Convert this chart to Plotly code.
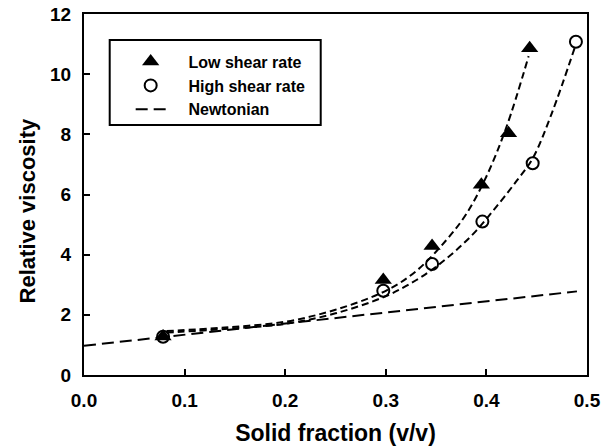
import plotly.graph_objects as go

# Measured relative viscosity vs. solid fraction
low_phi = [0.0786, 0.2975, 0.346, 0.395, 0.422, 0.443]
low_visc = [1.28, 3.16, 4.29, 6.32, 8.04, 10.86]

high_phi = [0.0786, 0.2975, 0.346, 0.396, 0.446, 0.489]
high_visc = [1.27, 2.80, 3.69, 5.10, 7.04, 11.08]

# Fitted curves through each data set
low_fit_phi = [0.082, 0.14, 0.20, 0.25, 0.30, 0.33, 0.36, 0.38, 0.40, 0.42, 0.442]
low_fit_visc = [1.46, 1.58, 1.77, 2.17, 2.80, 3.45, 4.48, 5.35, 6.60, 8.25, 10.60]

high_fit_phi = [0.082, 0.14, 0.20, 0.25, 0.30, 0.33, 0.35, 0.37, 0.39, 0.41, 0.43, 0.446, 0.465, 0.488]
high_fit_visc = [1.41, 1.53, 1.70, 2.05, 2.62, 3.15, 3.60, 4.15, 4.80, 5.60, 6.45, 7.20, 8.70, 10.90]

# Newtonian reference line
newt_phi = [0.0, 0.49]
newt_visc = [0.97, 2.78]

x_ticks = [0.0, 0.1, 0.2, 0.3, 0.4, 0.5]
x_tick_text = ["0.0", "0.1", "0.2", "0.3", "0.4", "0.5"]
y_ticks = [0, 2, 4, 6, 8, 10, 12]

FONT = "Liberation Sans, Arial, sans-serif"
PAD = "    "  # extra room between legend symbol and label

fig = go.Figure()

fig.add_trace(go.Scatter(
    x=low_fit_phi, y=low_fit_visc, mode="lines", line_shape="spline",
    line=dict(color="black", width=2, dash="7px,4px"), showlegend=False,
    hoverinfo="skip"))
fig.add_trace(go.Scatter(
    x=high_fit_phi, y=high_fit_visc, mode="lines", line_shape="spline",
    line=dict(color="black", width=2, dash="7px,4px"), showlegend=False,
    hoverinfo="skip"))

fig.add_trace(go.Scatter(
    x=low_phi, y=low_visc, mode="markers", name=PAD + "Low shear rate",
    marker=dict(symbol="triangle-up", size=15, color="black",
                line=dict(color="black", width=0))))
fig.add_trace(go.Scatter(
    x=high_phi, y=high_visc, mode="markers", name=PAD + "High shear rate",
    marker=dict(symbol="circle-open", size=12, color="black",
                line=dict(color="black", width=2))))
fig.add_trace(go.Scatter(
    x=newt_phi, y=newt_visc, mode="lines", name=PAD + "Newtonian",
    line=dict(color="black", width=2, dash="12px,6px")))

# Legend frame
fig.add_shape(type="rect", xref="paper", yref="paper",
              x0=0.0511, x1=0.4706, y0=0.6925, y1=0.928,
              line=dict(color="black", width=2), fillcolor="rgba(0,0,0,0)")

# Y-axis title
fig.add_annotation(text="Relative viscosity", textangle=-90,
                   xref="paper", yref="paper", x=-0.112, y=0.455,
                   xanchor="center", yanchor="middle", showarrow=False,
                   font=dict(family=FONT, size=22, color="black", weight="bold"))

fig.update_layout(
    width=613, height=448,
    margin=dict(l=84, r=26, t=14, b=73),
    paper_bgcolor="white", plot_bgcolor="white",
    font=dict(family=FONT, size=16, color="black"),
    legend=dict(
        x=0.0928, y=0.915, xanchor="left", yanchor="top",
        bgcolor="rgba(0,0,0,0)", borderwidth=0,
        font=dict(family=FONT, size=16, color="black", weight="bold"),
        tracegroupgap=0,
    ),
)

fig.update_xaxes(
    range=[0, 0.5], tickvals=x_ticks, ticktext=x_tick_text,
    ticks="inside", ticklen=6, tickwidth=2, tickcolor="black",
    showline=True, linecolor="black", linewidth=2, mirror=True,
    showgrid=False, zeroline=False, ticklabelstandoff=7,
    tickfont=dict(family=FONT, size=19, color="black", weight="bold"),
    title=dict(text="Solid fraction (v/v)", standoff=15,
               font=dict(family=FONT, size=23, color="black", weight="bold")),
    automargin=False,
)
fig.update_yaxes(
    range=[0, 12], tickvals=y_ticks,
    ticks="inside", ticklen=6, tickwidth=2, tickcolor="black",
    showline=True, linecolor="black", linewidth=2, mirror=True,
    showgrid=False, zeroline=False, ticklabelstandoff=7,
    tickfont=dict(family=FONT, size=19, color="black", weight="bold"),
    automargin=False,
)

fig.write_html("out.html")
